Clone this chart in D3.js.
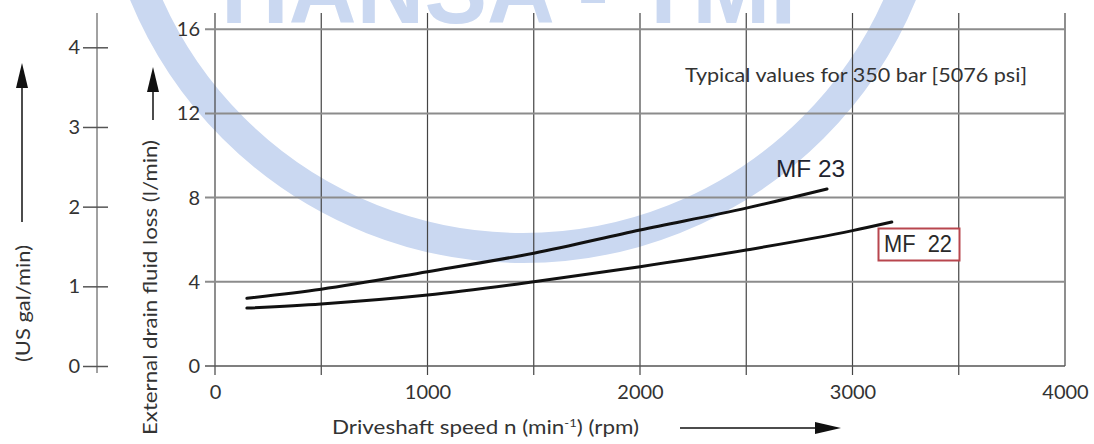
<!DOCTYPE html>
<html lang="en">
<head>
    <meta charset="UTF-8">
    <title>External drain fluid loss</title>
    <style>
        body {
            margin: 0;
            background-color: white;
        }
        svg {
            display: block;
        }
        text {
            font-family: Lato, "Open Sans", sans-serif;
            fill: #333;
        }
    </style>
</head>
<body>
    <svg width="1094" height="444"></svg>
    <script src="https://d3js.org/d3.v7.min.js"></script>
    <script>
        // data: speed in rpm, loss in l/min
        const mf23Speed = [150, 500, 1000, 1500, 2000, 2500, 2880];
        const mf23Loss = [3.22, 3.65, 4.48, 5.36, 6.46, 7.5, 8.41];
        const mf22Speed = [150, 500, 1000, 1500, 2000, 2500, 3000, 3185];
        const mf22Loss = [2.75, 2.95, 3.37, 4.0, 4.72, 5.51, 6.43, 6.84];
        const speedTicks = [0, 1000, 2000, 3000, 4000];
        const speedGrid = [0, 500, 1000, 1500, 2000, 2500, 3000, 3500, 4000];
        const lossTicks = [0, 4, 8, 12, 16];
        const galTicks = [0, 1, 2, 3, 4];
        const litresPerGal = 3.785;

        const svg = d3.select("svg");
        const tickFont = g => g.selectAll("text")
            .style("font-size", "20px")
            .style("fill", "#333")
            .style("font-family", "Lato, sans-serif");

        const x = d3.scaleLinear().domain([0, 4000]).range([215, 1065]);
        const y = d3.scaleLinear().domain([0, 16]).range([366, 29.2]);
        const yGal = d3.scaleLinear().domain([0, 16 / litresPerGal]).range([366, 29.2]);

        // watermark
        const wm = svg.append("g").attr("fill", "none");
        wm.append("circle")
            .attr("cx", 523).attr("cy", -162)
            .attr("r", 410)
            .attr("stroke", "#cad8f1")
            .attr("stroke-width", 30);
        wm.append("text")
            .attr("x", 221).attr("y", 23)
            .attr("textLength", 612)
            .attr("lengthAdjust", "spacingAndGlyphs")
            .style("font-family", "Liberation Sans, sans-serif")
            .style("font-weight", "bold")
            .style("font-size", "100px")
            .style("fill", "#cad8f1")
            .text("HANSA - TMP");

        // grid
        const grid = svg.append("g");
        grid.selectAll(".v")
            .data(speedGrid)
            .join("line")
            .attr("x1", d => x(d)).attr("x2", d => x(d))
            .attr("y1", 13)
            .attr("y2", d => d === 4000 ? y(0) : 375)
            .attr("stroke", "#444")
            .attr("stroke-width", 1.2);
        grid.selectAll(".h")
            .data(lossTicks)
            .join("line")
            .attr("x1", 205).attr("x2", x(4000))
            .attr("y1", d => y(d)).attr("y2", d => y(d))
            .attr("stroke", d => d === 0 ? "#555" : "#8c8c8c")
            .attr("stroke-width", d => d === 0 ? 1.5 : 2);

        // l/min tick labels
        svg.append("g")
            .attr("transform", "translate(205,0)")
            .call(d3.axisLeft(y).tickValues(lossTicks).tickSize(0).tickPadding(5))
            .call(g => g.select(".domain").remove())
            .call(tickFont);

        // rpm tick labels
        svg.append("g")
            .attr("transform", "translate(0,380)")
            .call(d3.axisBottom(x).tickValues(speedTicks).tickSize(0).tickPadding(5).tickFormat(d3.format("d")))
            .call(g => g.select(".domain").remove())
            .call(tickFont);

        // US gal/min axis
        svg.append("g")
            .attr("transform", "translate(97,0)")
            .call(d3.axisLeft(yGal).tickValues(galTicks).tickFormat(d3.format("d")).tickSize(14).tickSizeOuter(0))
            .call(g => g.select(".domain").attr("d", "M0,13V373").attr("stroke", "#444"))
            .call(g => g.selectAll(".tick line").attr("x2", 11).attr("x1", -14).attr("stroke", "#555").attr("stroke-width", 1.5))
            .call(tickFont)
            .call(g => g.selectAll("text").attr("x", -17));

        // curves
        const line = d3.line()
            .x(d => x(d[0]))
            .y(d => y(d[1]))
            .curve(d3.curveMonotoneX);
        const series = [
            d3.zip(mf23Speed, mf23Loss),
            d3.zip(mf22Speed, mf22Loss)
        ];
        svg.append("g")
            .selectAll("path")
            .data(series)
            .join("path")
            .attr("d", line)
            .attr("fill", "none")
            .attr("stroke", "#111")
            .attr("stroke-width", 3)
            .attr("stroke-linecap", "round");

        // curve labels
        svg.append("text")
            .attr("x", 776).attr("y", 177)
            .attr("textLength", 69)
            .attr("lengthAdjust", "spacingAndGlyphs")
            .style("font-family", "Liberation Sans, sans-serif")
            .style("font-size", "23px")
            .style("fill", "#1f2430")
            .text("MF 23");
        svg.append("rect")
            .attr("x", 878.5).attr("y", 228.5)
            .attr("width", 81).attr("height", 32)
            .attr("fill", "white")
            .attr("stroke", "#b8464e")
            .attr("stroke-width", 2);
        svg.append("text")
            .attr("x", 884).attr("y", 252)
            .attr("textLength", 68)
            .attr("lengthAdjust", "spacingAndGlyphs")
            .style("font-family", "Liberation Sans, sans-serif")
            .style("font-size", "23px")
            .style("fill", "#2a2a2a")
            .style("white-space", "pre")
            .text("MF  22");

        // note
        svg.append("text")
            .attr("x", 685).attr("y", 82)
            .attr("textLength", 342)
            .attr("lengthAdjust", "spacingAndGlyphs")
            .style("font-size", "20px")
            .text("Typical values for 350 bar [5076 psi]");

        // axis titles
        svg.append("text")
            .attr("transform", "translate(157,435) rotate(-90)")
            .attr("textLength", 295)
            .attr("lengthAdjust", "spacingAndGlyphs")
            .style("font-size", "19px")
            .text("External drain fluid loss (l/min)");
        svg.append("text")
            .attr("transform", "translate(30,362) rotate(-90)")
            .attr("textLength", 117)
            .attr("lengthAdjust", "spacingAndGlyphs")
            .style("font-size", "19px")
            .text("(US gal/min)");
        const xTitle = svg.append("text")
            .attr("x", 332).attr("y", 434)
            .attr("textLength", 307)
            .attr("lengthAdjust", "spacingAndGlyphs")
            .style("font-size", "19px");
        xTitle.append("tspan").text("Driveshaft speed n (min");
        xTitle.append("tspan").attr("dy", -7).style("font-size", "11px").text("-1");
        xTitle.append("tspan").attr("dy", 7).text(") (rpm)");

        // arrows
        const arrows = svg.append("g").attr("stroke", "#111").attr("fill", "#111");
        arrows.append("line").attr("x1", 22).attr("x2", 22).attr("y1", 222).attr("y2", 80).attr("stroke-width", 1.5);
        arrows.append("path").attr("d", "M22,63L16,88L28,88Z").attr("stroke", "none");
        arrows.append("line").attr("x1", 153).attr("x2", 153).attr("y1", 120).attr("y2", 85).attr("stroke-width", 1.5);
        arrows.append("path").attr("d", "M153,67L147,92L159,92Z").attr("stroke", "none");
        arrows.append("line").attr("x1", 680).attr("x2", 825).attr("y1", 428).attr("y2", 428).attr("stroke-width", 1.5);
        arrows.append("path").attr("d", "M841,428L815,422L815,434Z").attr("stroke", "none");
    </script>
</body>
</html>
